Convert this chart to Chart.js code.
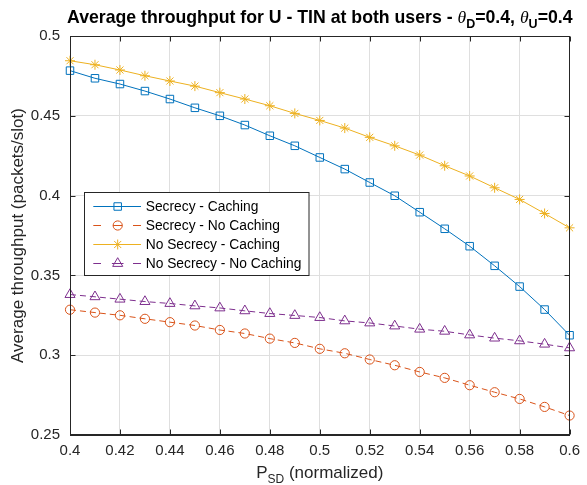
<!DOCTYPE html>
<html>
<head>
<meta charset="utf-8">
<script src="https://cdn.jsdelivr.net/npm/chart.js@4.4.0/dist/chart.umd.min.js"></script>
<style>
  html, body { margin: 0; padding: 0; background: #ffffff; }
  #wrap { width: 587px; height: 485px; }
</style>
</head>
<body>
<div id="wrap"><canvas id="c" width="587" height="485"></canvas></div>
<script>
// ---- Data ----
const xValues = [0.40, 0.41, 0.42, 0.43, 0.44, 0.45, 0.46, 0.47, 0.48, 0.49, 0.50,
                 0.51, 0.52, 0.53, 0.54, 0.55, 0.56, 0.57, 0.58, 0.59, 0.60];

const secrecyCaching = [0.4783, 0.4735, 0.4699, 0.4655, 0.4605, 0.4550, 0.4500, 0.4442, 0.4375, 0.4312, 0.4239,
                        0.4166, 0.4082, 0.3999, 0.3896, 0.3792, 0.3683, 0.3560, 0.3430, 0.3286, 0.3125];
const secrecyNoCaching = [0.3285, 0.3267, 0.3250, 0.3228, 0.3207, 0.3186, 0.3158, 0.3136, 0.3104, 0.3077, 0.3040,
                          0.3012, 0.2973, 0.2937, 0.2895, 0.2858, 0.2812, 0.2768, 0.2726, 0.2676, 0.2622];
const noSecrecyCaching = [0.4845, 0.4820, 0.4787, 0.4751, 0.4718, 0.4686, 0.4645, 0.4605, 0.4563, 0.4515, 0.4471,
                          0.4423, 0.4365, 0.4312, 0.4254, 0.4187, 0.4123, 0.4049, 0.3976, 0.3888, 0.3798];
const noSecrecyNoCaching = [0.3380, 0.3366, 0.3351, 0.3336, 0.3324, 0.3309, 0.3296, 0.3278, 0.3261, 0.3249, 0.3236,
                            0.3215, 0.3202, 0.3183, 0.3163, 0.3150, 0.3127, 0.3107, 0.3090, 0.3069, 0.3046];

const seriesLabels = ['Secrecy - Caching', 'Secrecy - No Caching', 'No Secrecy - Caching', 'No Secrecy - No Caching'];

const xTickValues = [0.40, 0.42, 0.44, 0.46, 0.48, 0.50, 0.52, 0.54, 0.56, 0.58, 0.60];
const xTickLabels = ['0.4', '0.42', '0.44', '0.46', '0.48', '0.5', '0.52', '0.54', '0.56', '0.58', '0.6'];
const yTickValues = [0.25, 0.30, 0.35, 0.40, 0.45, 0.50];
const yTickLabels = ['0.25', '0.3', '0.35', '0.4', '0.45', '0.5'];

// ---- Styles ----
const SANS = '"Liberation Sans", Arial, Helvetica, sans-serif';
const SERIF = '"Liberation Serif", "Times New Roman", serif';
const AXIS_COLOR = '#262626';
const GRID_COLOR = '#dfdfdf';
const colors = ['#0072BD', '#D95319', '#EDB120', '#7E2F8E'];
const styles = ['rect', 'circle', 'star', 'triangle'];
const radii = [5.3, 4.6, 5, 5.8];
const dashes = [[], [6, 4], [], [6, 4]];
const allSeries = [secrecyCaching, secrecyNoCaching, noSecrecyCaching, noSecrecyNoCaching];

const datasets = allSeries.map((vals, i) => ({
  label: seriesLabels[i],
  data: xValues.map((x, k) => ({ x: x, y: vals[k] })),
  borderColor: colors[i],
  backgroundColor: 'rgba(0,0,0,0)',
  borderWidth: 1,
  borderDash: dashes[i],
  pointStyle: styles[i],
  pointRadius: radii[i],
  pointBorderWidth: 1,
  pointBorderColor: colors[i],
  pointBackgroundColor: 'rgba(0,0,0,0)',
  pointHoverRadius: radii[i],
  tension: 0,
  fill: false,
  clip: false
}));

function drawRich(ctx, segs, cx, baseline) {
  let total = 0;
  segs.forEach(s => { ctx.font = s.font; s.w = ctx.measureText(s.text).width; total += s.w; });
  let x = cx - total / 2;
  ctx.textAlign = 'left';
  ctx.textBaseline = 'alphabetic';
  segs.forEach(s => {
    ctx.font = s.font;
    ctx.fillStyle = s.color;
    ctx.fillText(s.text, x, baseline + (s.dy || 0));
    x += s.w;
  });
}

function legendMarker(ctx, style, r, x, y) {
  ctx.beginPath();
  if (style === 'rect') {
    const s = Math.SQRT1_2 * r;
    ctx.rect(x - s, y - s, 2 * s, 2 * s);
  } else if (style === 'circle') {
    ctx.arc(x, y, r, 0, Math.PI * 2);
  } else if (style === 'triangle') {
    ctx.moveTo(x, y - r);
    ctx.lineTo(x + r * Math.cos(Math.PI / 6), y + r / 2);
    ctx.lineTo(x - r * Math.cos(Math.PI / 6), y + r / 2);
    ctx.closePath();
  } else if (style === 'star') {
    for (let k = 0; k < 4; k++) {
      const a = k * Math.PI / 4;
      ctx.moveTo(x - Math.cos(a) * r, y - Math.sin(a) * r);
      ctx.lineTo(x + Math.cos(a) * r, y + Math.sin(a) * r);
    }
  }
  ctx.stroke();
}

const decorPlugin = {
  id: 'decor',
  afterDraw(chart) {
    const ctx = chart.ctx;
    const a = chart.chartArea;
    const xs = chart.scales.x, ys = chart.scales.y;
    ctx.save();
    // box
    ctx.strokeStyle = AXIS_COLOR;
    ctx.lineWidth = 1;
    ctx.setLineDash([]);
    const L = Math.round(a.left) + 0.5, R = Math.round(a.right) - 0.5;
    const T = Math.round(a.top) + 0.5, B = Math.round(a.bottom) - 0.5;
    ctx.strokeRect(L, T, R - L, B - T);
    // inward ticks
    const tl = 5;
    ctx.beginPath();
    xTickValues.forEach(v => {
      const px = Math.round(xs.getPixelForValue(v)) + 0.5;
      ctx.moveTo(px, B); ctx.lineTo(px, B - tl);
      ctx.moveTo(px, T); ctx.lineTo(px, T + tl);
    });
    yTickValues.forEach(v => {
      const py = Math.round(ys.getPixelForValue(v)) + 0.5;
      ctx.moveTo(L, py); ctx.lineTo(L + tl, py);
      ctx.moveTo(R, py); ctx.lineTo(R - tl, py);
    });
    ctx.stroke();

    const cx = (a.left + a.right) / 2;
    // title
    drawRich(ctx, [
      { text: 'Average throughput for U - TIN at both users - ', font: 'bold 17.7px ' + SANS, color: '#000' },
      { text: 'θ', font: 'italic 17.7px ' + SERIF, color: '#000' },
      { text: 'D', font: 'bold 12.5px ' + SANS, color: '#000', dy: 5 },
      { text: '=0.4, ', font: 'bold 17.7px ' + SANS, color: '#000' },
      { text: 'θ', font: 'italic 17.7px ' + SERIF, color: '#000' },
      { text: 'U', font: 'bold 12.5px ' + SANS, color: '#000', dy: 5 },
      { text: '=0.4', font: 'bold 17.7px ' + SANS, color: '#000' }
    ], cx, 23);
    // x label
    drawRich(ctx, [
      { text: 'P', font: '17px ' + SANS, color: AXIS_COLOR },
      { text: 'SD', font: '12px ' + SANS, color: AXIS_COLOR, dy: 5 },
      { text: ' (normalized)', font: '17px ' + SANS, color: AXIS_COLOR }
    ], cx, 478);
    // y label
    ctx.save();
    ctx.translate(23, (a.top + a.bottom) / 2);
    ctx.rotate(-Math.PI / 2);
    ctx.font = '17px ' + SANS;
    ctx.fillStyle = AXIS_COLOR;
    ctx.textAlign = 'center';
    ctx.textBaseline = 'alphabetic';
    ctx.fillText('Average throughput (packets/slot)', 0, 0);
    ctx.restore();

    // legend
    const bx = 84.5, by = 192.5, bw = 224.5, bh = 83;
    ctx.fillStyle = '#ffffff';
    ctx.fillRect(bx, by, bw, bh);
    ctx.strokeStyle = AXIS_COLOR;
    ctx.lineWidth = 1;
    ctx.strokeRect(bx, by, bw, bh);
    chart.data.datasets.forEach((ds, i) => {
      const y = Math.round(206 + i * 19.1) + 0.5;
      const x0 = 93.3, x1 = 141, mx = 117.7;
      ctx.strokeStyle = ds.borderColor;
      ctx.lineWidth = 1;
      ctx.setLineDash([]);
      ctx.beginPath();
      if (ds.borderDash && ds.borderDash.length) {
        ctx.moveTo(x0, y); ctx.lineTo(101, y);
        ctx.moveTo(mx - ds.pointRadius, y); ctx.lineTo(mx + ds.pointRadius, y);
        ctx.moveTo(133, y); ctx.lineTo(x1, y);
      } else {
        ctx.moveTo(x0, y); ctx.lineTo(x1, y);
      }
      ctx.stroke();
      legendMarker(ctx, ds.pointStyle, ds.pointRadius, mx, y);
      ctx.font = '13.8px ' + SANS;
      ctx.fillStyle = '#000';
      ctx.textAlign = 'left';
      ctx.textBaseline = 'middle';
      ctx.fillText(ds.label, 145.7, y + 0.5);
    });
    ctx.restore();
  }
};

new Chart(document.getElementById('c'), {
  type: 'line',
  data: { datasets: datasets },
  options: {
    responsive: false,
    animation: false,
    devicePixelRatio: 1,
    layout: { padding: { top: 36, right: 11, left: 0, bottom: 0 } },
    plugins: {
      legend: { display: false },
      title: { display: false },
      tooltip: { enabled: false }
    },
    scales: {
      x: {
        type: 'linear',
        min: 0.4, max: 0.6,
        afterBuildTicks: s => { s.ticks = xTickValues.map(v => ({ value: v })); },
        afterFit: s => { s.height = 50; },
        ticks: {
          callback: (v) => { const k = xTickValues.findIndex(t => Math.abs(t - v) < 1e-9); return k >= 0 ? xTickLabels[k] : ''; },
          font: { family: SANS, size: 15 },
          color: AXIS_COLOR,
          padding: 7,
          maxRotation: 0,
          autoSkip: false
        },
        grid: { color: GRID_COLOR, drawTicks: false, lineWidth: 1 },
        border: { display: true, color: AXIS_COLOR, width: 1 }
      },
      y: {
        type: 'linear',
        min: 0.25, max: 0.5,
        afterBuildTicks: s => { s.ticks = yTickValues.map(v => ({ value: v })); },
        afterFit: s => { s.width = 70; },
        ticks: {
          callback: (v) => { const k = yTickValues.findIndex(t => Math.abs(t - v) < 1e-9); return k >= 0 ? yTickLabels[k] : ''; },
          font: { family: SANS, size: 15 },
          color: AXIS_COLOR,
          padding: 10,
          autoSkip: false
        },
        grid: { color: GRID_COLOR, drawTicks: false, lineWidth: 1 },
        border: { display: true, color: AXIS_COLOR, width: 1 }
      }
    }
  },
  plugins: [decorPlugin]
});
</script>
</body>
</html>
